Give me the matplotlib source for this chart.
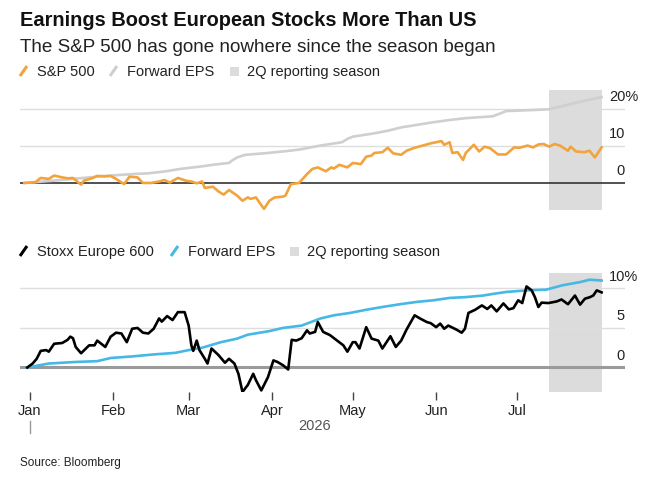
import matplotlib
matplotlib.use("Agg")
import matplotlib.pyplot as plt
import matplotlib.dates as mdates
from matplotlib.lines import Line2D
from matplotlib.patches import Rectangle
import datetime as dt

plt.rcParams['font.family'] = ['Liberation Sans', 'DejaVu Sans']

# days since 2026-01-01, values in %
spx_days = [-2, 2, 4, 7, 9, 12, 14, 16, 19, 20, 23, 25, 28, 30, 32, 35, 37, 40, 42, 45,
            48, 50, 52, 55, 58, 60, 62, 64, 65, 68, 70, 72, 74, 77, 79, 81, 82, 84, 87, 89,
            91, 94, 95, 97, 100, 103, 105, 107, 110, 112, 113, 115, 118, 120, 123, 125, 127, 128,
            131, 133, 135, 138, 140, 143, 146, 149, 151, 153, 154, 156, 157, 159, 161, 162, 165,
            167, 169, 171, 174, 177, 180, 182, 185, 187, 189, 191, 193, 195, 197, 200, 201, 203,
            206, 208, 210, 212.5]
spx = [0, 0.2, 1.35, 1.1, 2.0, 1.5, 1.25, 1.35, -0.45, 0.6, 1.25, 1.9, 1.8, 1.9, 1.1, -0.3, 1.7, 1.5, 0, 0,
       0.4, 0.8, 0.1, 1.35, 0.6, 0.4, -0.1, 0.4, -1.35, -1.0, -2.25, -3.15, -1.9, -3.4, -4.8, -3.9, -4.3, -3.9, -7.0, -4.8,
       -3.9, -3.7, -3.4, -0.3, 0, 2.4, 3.8, 4.2, 3.15, 4.2, 3.9, 4.9, 4.2, 5.4, 5.1, 7.1, 7.4, 8.1,
       8.3, 9.5, 8.0, 7.6, 8.7, 9.5, 10.1, 10.7, 11.0, 11.3, 10.3, 11.0, 8.1, 8.3, 6.2, 8.1, 10.3,
       8.5, 9.8, 9.4, 7.7, 7.7, 9.6, 9.5, 10.1, 9.6, 10.4, 10.5, 9.8, 10.5, 10.1, 8.7, 9.8, 8.5,
       8.3, 8.7, 6.9, 9.6]

spx_eps_days = [-2, 10, 25, 32, 38, 44, 50, 56, 63, 69, 74, 75, 77, 80, 87, 94, 100, 108, 116, 118,
                120, 128, 133, 138, 144, 150, 156, 162, 170, 172, 175, 177, 187, 193, 197, 202, 207, 212.5]
spx_eps = [0, 0.7, 1.7, 2.1, 2.4, 2.6, 3.1, 3.8, 4.4, 5.0, 5.4, 6.0, 6.9, 7.6, 8.0, 8.5, 9.0, 10.1, 11.0, 11.9,
           12.5, 13.4, 14.1, 15.0, 15.7, 16.4, 17.0, 17.5, 17.9, 18.0, 18.8, 19.4, 19.7, 19.9, 20.6, 21.5, 22.3, 23.2]

stoxx_days = [-1, 1, 2.5, 4, 6, 7, 9, 12, 14, 15, 16, 17, 19, 22, 24, 25, 28, 30, 32, 34,
              36, 38, 40, 42, 44, 46, 48, 49, 51, 53, 55, 57.5, 59, 60, 60.7, 62, 63, 65, 66, 67.5,
              70, 72.5, 74, 76, 77.5, 79, 81, 83, 84, 86, 88.5, 90.5, 92, 94, 96, 97.3, 99, 101, 103, 104,
              106, 107, 109, 111.5, 114, 116.5, 118, 120, 121, 122.5, 125, 127, 129.5, 131, 134, 136, 138, 140,
              143, 145, 147.5, 149, 151, 152.5, 154, 155.5, 158.5, 160.5, 161.7, 163, 165.5, 168, 170, 171.5,
              173.5, 176, 178, 179.7, 181.5, 183, 184.6, 186.5, 187.7, 189, 190.2, 192.7, 195.8, 197.6, 200,
              202.6, 204.5, 206.3, 208.2, 209.4, 210.7, 212.5]
stoxx = [0, 0.5, 1.1, 2.1, 2.2, 2.0, 3.0, 3.1, 3.5, 3.9, 3.7, 2.6, 1.8, 2.8, 2.8, 3.4, 2.6, 3.9, 4.4, 4.3,
         3.2, 4.9, 5.0, 4.4, 4.3, 4.9, 6.2, 5.8, 6.5, 6.0, 7.0, 7.0, 5.3, 2.8, 2.1, 3.4, 2.2, 1.1, 0.5, 2.4,
         1.6, 0.6, 1.1, 0.5, -0.8, -3.1, -2.2, -0.8, -1.6, -2.9, -1.2, 0.9, 0.7, 0.3, -0.25, 3.5, 3.4, 3.7, 4.7, 4.3,
         4.5, 5.75, 4.5, 4.1, 3.45, 2.8, 2.0, 3.2, 3.2, 2.4, 5.1, 3.65, 3.4, 2.4, 3.95, 2.6, 3.4, 4.8,
         6.6, 6.2, 5.75, 5.6, 5.1, 5.55, 4.9, 5.3, 4.8, 4.4, 4.9, 6.9, 7.3, 7.85, 7.4, 7.85,
         7.1, 8.1, 7.35, 7.5, 8.5, 8.15, 10.25, 9.75, 8.9, 7.65, 8.2, 8.15, 8.35, 8.6, 8.0,
         9.1, 7.95, 8.7, 8.9, 9.1, 9.75, 9.5]

stoxx_eps_days = [-1, 7, 17, 25, 30, 38, 46, 54, 59, 64, 71, 77, 81, 89, 94, 101, 108, 113, 119, 125,
                  131, 137.5, 144, 150, 156, 162, 168.5, 172, 177, 184.6, 192, 198, 204.5, 208, 212.5]
stoxx_eps = [0, 0.5, 0.7, 0.8, 1.2, 1.4, 1.65, 1.85, 2.2, 2.5, 3.2, 3.65, 4.15, 4.6, 5.0, 5.3, 6.2, 6.6, 6.9, 7.3,
             7.65, 8.0, 8.3, 8.5, 8.8, 8.9, 9.1, 9.3, 9.55, 9.75, 9.85, 10.4, 10.8, 11.1, 11.0]

season_start, season_end = 193, 212.5
months = ['Jan', 'Feb', 'Mar', 'Apr', 'May', 'Jun', 'Jul']

top_ticks = [0, 10, 20]
bottom_ticks = [0, 5, 10]

ORANGE = '#F2A33A'
LGRAY = '#cfcfcf'
BLUE = '#45B8E6'
SHADE = '#dcdcdc'
GRID = '#dedede'

base = mdates.date2num(dt.datetime(2026, 1, 1))
def d(days):
    return [base + x for x in days]

W, H = 660, 485
fig = plt.figure(figsize=(6.6, 4.85), dpi=100)

def fx(px):
    return px / W
def fy(py):
    return 1 - py / H

ax1 = fig.add_axes([fx(20), fy(211), fx(605), (211 - 91) / H])
ax2 = fig.add_axes([fx(20), fy(393), fx(605), (393 - 274) / H])

for ax in (ax1, ax2):
    ax.set_xlim(base - 3.7, base + 221.2)
    for s in ax.spines.values():
        s.set_visible(False)
    ax.set_yticks([])
    ax.axvspan(base + season_start, base + season_end, color=SHADE, lw=0, zorder=0)

ax1.set_ylim(-7.3, 25.1)
ax2.set_ylim(-3.1, 11.95)

for v in top_ticks[1:]:
    ax1.axhline(v, color=GRID, lw=1, zorder=1)
ax1.axhline(0, color='#333333', lw=1.2, zorder=2)
for v in bottom_ticks[1:]:
    ax2.axhline(v, color=GRID, lw=1, zorder=1)
ax2.axhline(0, color='#9a9a9a', lw=2.2, zorder=2)

ax1.plot(d(spx_eps_days), spx_eps, color=LGRAY, lw=1.9, zorder=3)
ax1.plot(d(spx_days), spx, color=ORANGE, lw=1.9, zorder=4)
ax2.plot(d(stoxx_eps_days), stoxx_eps, color=BLUE, lw=1.9, zorder=3)
ax2.plot(d(stoxx_days), stoxx, color='black', lw=1.9, zorder=4)

# right-hand labels sitting above the gridlines
for ax, ticks in ((ax1, top_ticks), (ax2, bottom_ticks)):
    for v in ticks:
        if v == ticks[-1]:
            ax.annotate(f'{v}%', (589 / 605, v), xycoords=ax.get_yaxis_transform(),
                        xytext=(0, 9), textcoords='offset points', ha='left', va='center',
                        fontsize=10.5, color='#222222')
        else:
            ax.annotate(f'{v}', (1.0, v), xycoords=ax.get_yaxis_transform(),
                        xytext=(0, 9), textcoords='offset points', ha='right', va='center',
                        fontsize=10.5, color='#222222')

ax1.set_xticks([])
mticks = [mdates.date2num(dt.datetime(2026, m, 1)) for m in range(1, 8)]
ax2.set_xticks(mticks)
ax2.set_xticklabels(months, fontsize=10.5, color='#222222')
ax2.tick_params(axis='x', length=6, width=1, color='#444444', pad=2)

# title and subtitle
fig.text(fx(20), fy(20), 'Earnings Boost European Stocks More Than US', fontsize=14.4,
         fontweight='bold', va='center', color='#111111')
fig.text(fx(20), fy(48), 'The S&P 500 has gone nowhere since the season began', fontsize=13.6,
         va='center', color='#222222')

def legend_row(y, items):
    for x0, kind, color, label in items:
        if kind == 'line':
            fig.add_artist(Line2D([fx(x0), fx(x0 + 7)], [fy(y + 5), fy(y - 5)], color=color, lw=2.2,
                                  solid_capstyle='butt'))
        else:
            fig.add_artist(Rectangle((fx(x0), fy(y + 5)), 9 / W, 9 / H, color=color, lw=0))
        fig.text(fx(x0 + 17), fy(y), label, fontsize=10.5, va='center', color='#222222')

legend_row(72, [(20, 'line', ORANGE, 'S&P 500'), (110, 'line', LGRAY, 'Forward EPS'),
                (230, 'box', SHADE, '2Q reporting season')])
legend_row(252, [(20, 'line', 'black', 'Stoxx Europe 600'), (171, 'line', BLUE, 'Forward EPS'),
                 (290, 'box', SHADE, '2Q reporting season')])

fig.text(fx(315), fy(426), '2026', fontsize=10.5, ha='center', va='center', color='#555555')
fig.add_artist(Line2D([fx(30), fx(30)], [fy(422), fy(434)], color='#999999', lw=1))
fig.text(fx(20), fy(463), 'Source: Bloomberg', fontsize=8.5, va='center', color='#222222')

fig.savefig('out.png', dpi=100)
